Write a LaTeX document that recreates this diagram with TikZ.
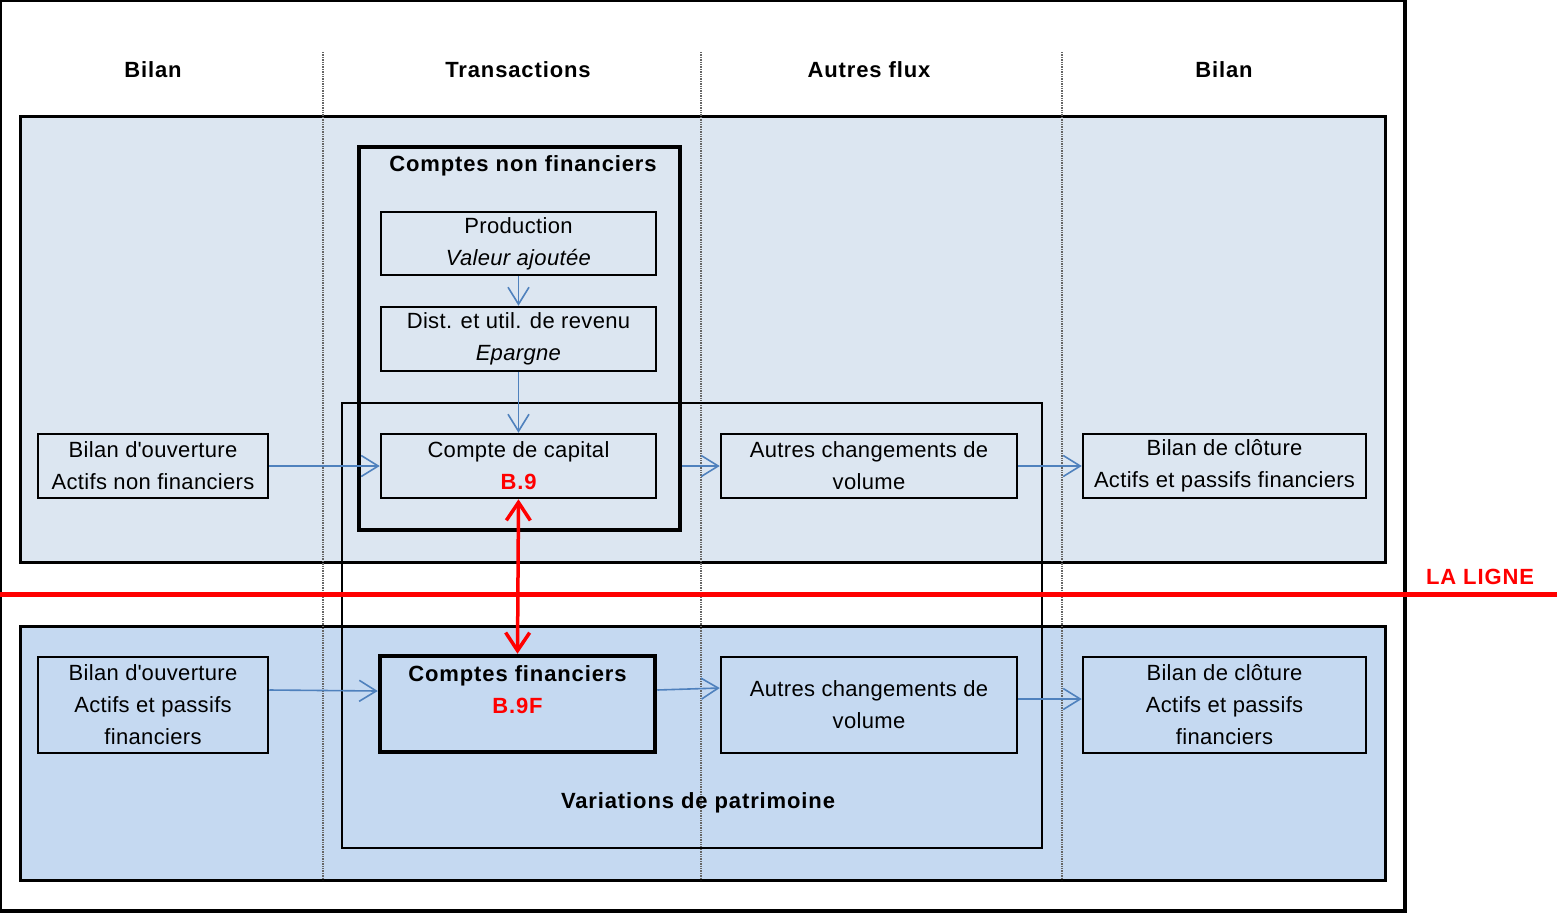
\documentclass[tikz,border=0pt]{standalone}
\usepackage{fontspec}
\setmainfont{Liberation Sans}[LetterSpace=1.5,BoldFeatures={LetterSpace=4}]
\usetikzlibrary{arrows.meta}
\definecolor{bandTop}{RGB}{220,230,241}
\definecolor{bandLow}{RGB}{197,217,241}
\definecolor{flowBlue}{RGB}{79,129,189}
\tikzstyle{acct} = [draw, line width=2.5pt, inner sep=0pt, align=center, font=\fontsize{22}{32}\selectfont]
\tikzstyle{head} = [font=\fontsize{22}{32}\selectfont\bfseries]
\tikzstyle{flow} = [draw=flowBlue, line width=1.6pt, -{Straight Barb[length=17pt,width=21pt]}]
\tikzstyle{band} = [draw, line width=3pt]
\tikzstyle{colsep} = [draw=gray!80!black, line width=1.4pt, densely dotted]

\begin{document}
\begin{tikzpicture}[x=1pt,y=-1pt]
	\useasboundingbox (0,0) rectangle (1557,913);
	% frame
	\draw[line width=1.5pt] (1405,1) -- (1,1) -- (1,911);
	\draw[line width=4pt] (1405,0) -- (1405,911) -- (0,911);
	
	% bands
	\draw[band, fill=bandTop] (20,116) rectangle (1385,562);
	\draw[band, fill=bandLow] (20,626) rectangle (1385,880);
	
	% columns
	\foreach \x in {323,701,1062}
		\draw[colsep] (\x,52) -- (\x,880);
	\foreach \x/\t in {153/Bilan,518/Transactions,869/Autres flux,1224/Bilan}
		\node[head] (h\x) at (\x,70) {\t};
	
	% groups
	\node (cnf) at (519.5,338.5) [draw, line width=4.5pt, minimum width=321pt, minimum height=383pt] {};
	\node (cnfT) at (523,166) [head] {Comptes non financiers};
	\node (var) at (692,625.5) [draw, line width=2pt, minimum width=700pt, minimum height=445pt] {};
	\node (varT) at (698,803) [head] {Variations de patrimoine};
	
	% upper accounts
	\node (prod) at (518.5,243.5) [acct, minimum width=275pt, minimum height=63pt] {Production\\\textit{Valeur ajoutée}};
	\node (dist) at (518.5,339) [acct, minimum width=275pt, minimum height=64pt] {Dist. et util. de revenu\\\textit{Epargne}};
	\node (capital) at (518.5,466) [acct, minimum width=275pt, minimum height=64pt] {Compte de capital\\\textcolor{red}{\bfseries B.9}};
	\node (ouvA) at (153,466) [acct, minimum width=230pt, minimum height=64pt] {Bilan d\textquotesingle ouverture\\Actifs non financiers};
	\node (autA) at (869,466) [acct, minimum width=296pt, minimum height=64pt] {Autres changements de\\volume};
	\node (clotA) at (1224.5,466) [acct, minimum width=283pt, minimum height=64pt] {Bilan de clôture\\Actifs et passifs financiers};
	
	% lower accounts
	\node (ouvB) at (153,705) [acct, minimum width=230pt, minimum height=96pt] {Bilan d\textquotesingle ouverture\\Actifs et passifs\\financiers};
	\node (finB) at (517.5,704) [acct, line width=4.5pt, minimum width=275pt, minimum height=96pt] {};
	\node (finT) at (517.5,690) [acct, draw=none] {\bfseries Comptes financiers\\\textcolor{red}{\bfseries B.9F}};
	\node (autB) at (869,705) [acct, minimum width=296pt, minimum height=96pt] {Autres changements de\\volume};
	\node (clotB) at (1224.5,705) [acct, minimum width=283pt, minimum height=96pt] {Bilan de clôture\\Actifs et passifs\\financiers};
	
	% flows
	\draw[flow] (prod.south) -- (dist.north);
	\draw[flow] (dist.south) -- (capital.north);
	\draw[flow] (ouvA.east) -- (capital.west);
	\draw[flow] (capital.east -| cnf.east) -- (autA.west);
	\draw[flow] (autA.east) -- (clotA.west);
	\draw[flow] ([yshift=15pt]ouvB.east) -- ([yshift=13pt]finB.west);
	\draw[flow] ([yshift=14pt]finB.east) -- ([yshift=17pt]autB.west);
	\draw[flow] ([yshift=6pt]autB.east) -- ([yshift=6pt]clotB.west);
	
	% la ligne
	\draw[red, line width=5pt] (0,594) coordinate (ligneW) -- (1557,594) coordinate (ligneE);
	\node (ligne) at (1480,577) [head, text=red] {LA LIGNE};
	\draw[red, line width=3.5pt, {Straight Barb[length=18pt,width=24pt]}-{Straight Barb[length=18pt,width=24pt]}] (capital.south) -- (finB.north);
\end{tikzpicture}
\end{document}
